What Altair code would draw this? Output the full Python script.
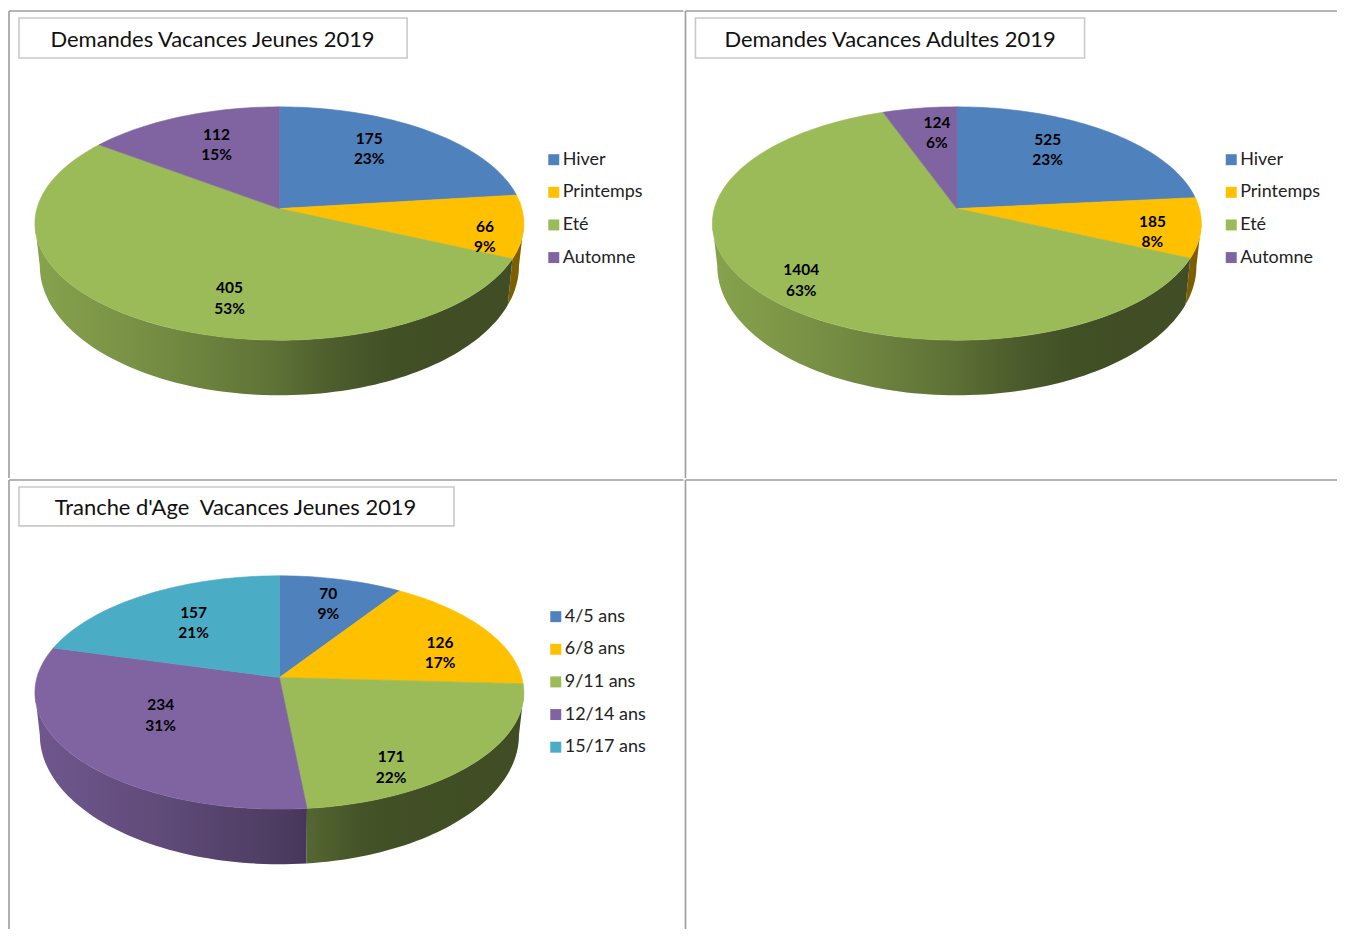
import math
import altair as alt
import pandas as pd

# ---- data ----
SEASONS = ["Hiver", "Printemps", "Eté", "Automne"]
AGES = ["4/5 ans", "6/8 ans", "9/11 ans", "12/14 ans", "15/17 ans"]
JEUNES_VALUES = [175, 66, 405, 112]
JEUNES_PCT = [23, 9, 53, 15]
ADULTES_VALUES = [525, 185, 1404, 124]
ADULTES_PCT = [23, 8, 63, 6]
AGE_VALUES = [70, 126, 171, 234, 157]
AGE_PCT = [9, 17, 22, 31, 21]
TITLE_JEUNES = "Demandes Vacances Jeunes 2019"
TITLE_ADULTES = "Demandes Vacances Adultes 2019"
TITLE_AGES = "Tranche d'Age\u00a0 Vacances Jeunes 2019"

# ---- styles / layout ----
COLORS = ["#4f81bd", "#ffc000", "#9bbb59", "#8064a2", "#4bacc6"]
FONT = "Lato"
LINE = "#9c9c9c"
BOX = "#c9c9c9"
R, B, K = 243.0, 115.0, 0.128        # perspective disc
DEPTH_Y, SCALE_Y, SCALE_X = 41.0, 1.108, 0.98  # lower rim of the disc
EDGE = math.degrees(math.acos(-K))
W1, W2, H1, H2 = 676, 653, 468, 450
LABEL_DY = -16
LABELS_1 = [(361, 137), (477, 225), (221, 287), (208, 133)]
LABELS_2 = [(363, 138), (468, 220), (116, 269), (252, 121)]
LABELS_3 = [(320, 123), (432, 172), (383, 287), (152, 235), (185, 142)]
PROJ = dict(type="identity", scale=1, translate=[0, 0])
TITLE_SIZE = 22
LEGEND_SIZE = 18
LABEL_SIZE = 15.5


def top(cx, cy, deg):
    t = math.radians(deg)
    d = 1 + K * math.cos(t)
    return (cx + R * math.sin(t) / d, cy - B * math.cos(t) / d)


def low(cx, cy, deg):
    x, y = top(cx, cy, deg)
    return (cx + SCALE_X * (x - cx), cy + DEPTH_Y + SCALE_Y * (y - cy))


def sweep(a, b, step=1.5):
    n = max(2, int(abs(b - a) / step) + 1)
    return [a + (b - a) * i / n for i in range(n + 1)]


def feature(ring, cat):
    ring = [list(p) for p in ring]
    ring.append(ring[0])
    return {"type": "Feature", "properties": {"cat": cat},
            "geometry": {"type": "Polygon", "coordinates": [ring]}}


def shade(x, cx):
    stops = [(-245, .87), (-120, .75), (0, .60), (90, .43), (245, .41)]
    dx = x - cx
    for (a, sa), (b, sb) in zip(stops, stops[1:]):
        if dx <= b:
            return sa + (sb - sa) * (max(dx, a) - a) / (b - a)
    return stops[-1][1]


def darken(hex_color, f):
    rgb = [int(hex_color[i:i + 2], 16) for i in (1, 3, 5)]
    return "#%02x%02x%02x" % tuple(min(255, round(c * f)) for c in rgb)


def rule(**kw):
    return alt.Chart().mark_rule(color=LINE, strokeWidth=1.6).encode(**kw)


def pie(cats, values, pcts, title, title_box, title_x, cx, cy, label_pos,
        legend_x, legend_y, row_pad, width, height):
    total = sum(values)
    colors = COLORS[:len(cats)]
    bounds = [0]
    for v in values:
        bounds.append(bounds[-1] + 360 * v / total)

    layers = [
        rule(x=alt.value(0), x2=alt.value(width), y=alt.value(0)),
        rule(x=alt.value(0), y=alt.value(0), y2=alt.value(height)),
    ]

    # title box
    layers.append(alt.Chart().mark_rect(fill="white", stroke=BOX, strokeWidth=1.6).encode(
        x=alt.value(title_box[0]), x2=alt.value(title_box[1]),
        y=alt.value(title_box[2]), y2=alt.value(title_box[3])))
    layers.append(alt.Chart(pd.DataFrame({"t": [title]})).mark_text(
        font=FONT, fontSize=TITLE_SIZE, color="#111111", align="center", baseline="middle"
    ).encode(text="t:N", x=alt.value(title_x), y=alt.value((title_box[2] + title_box[3]) / 2 + 2)))

    # side walls
    for i, cat in enumerate(cats):
        a = max(bounds[i], EDGE)
        b = min(bounds[i + 1], 360 - EDGE)
        if b <= a:
            continue
        angles = sweep(a, b)
        ring = [top(cx, cy, d) for d in angles] + [low(cx, cy, d) for d in reversed(angles)]
        xs = [p[0] for p in ring]
        x0, x1 = min(xs), max(xs)
        boost = 1.2 if colors[i] == "#ffc000" else 1.0
        stops = [alt.GradientStop(offset=j / 8,
                                  color=darken(colors[i], boost * shade(x0 + (x1 - x0) * j / 8, cx)))
                 for j in range(9)]
        grad = alt.Gradient(gradient="linear", x1=0, x2=1, y1=0, y2=0, stops=stops)
        layers.append(alt.Chart(alt.Data(values=[feature(ring, cat)]))
                      .mark_geoshape(fill=grad, strokeWidth=0).project(**PROJ))

    # top slices
    feats = []
    for i, cat in enumerate(cats):
        ring = [(cx, cy)] + [top(cx, cy, d) for d in sweep(bounds[i], bounds[i + 1])]
        feats.append(feature(ring, cat))
    scale = alt.Scale(domain=cats, range=colors)
    layers.append(alt.Chart(alt.Data(values=feats)).mark_geoshape(strokeWidth=0.6).encode(
        color=alt.Color("properties.cat:N", scale=scale, legend=alt.Legend(
            title=None, orient="none", legendX=legend_x, legendY=legend_y,
            symbolType="square", symbolSize=121, symbolStrokeWidth=0,
            labelFont=FONT, labelFontSize=LEGEND_SIZE, labelColor="#222222",
            labelOffset=0, rowPadding=row_pad, padding=0)),
        stroke=alt.Stroke("properties.cat:N", scale=scale, legend=None),
    ).project(**PROJ))

    # labels
    df = pd.DataFrame({
        "lon": [p[0] for p in label_pos],
        "lat": [p[1] + LABEL_DY for p in label_pos],
        "txt": [f"{v}\n{p}%" for v, p in zip(values, pcts)],
    })
    layers.append(alt.Chart(df).mark_text(
        font=FONT, fontSize=LABEL_SIZE, fontWeight="bold", color="black",
        lineBreak="\n", lineHeight=20.5, align="center", baseline="top"
    ).encode(longitude="lon:Q", latitude="lat:Q", text="txt:N").project(**PROJ))

    return alt.layer(*layers).properties(width=width, height=height)


c1 = pie(SEASONS, JEUNES_VALUES, JEUNES_PCT, TITLE_JEUNES, (10, 399, 7, 47), 204,
         271, 198, LABELS_1, 537, 140, 14.7, W1, H1)
c2 = pie(SEASONS, ADULTES_VALUES, ADULTES_PCT, TITLE_ADULTES, (10, 400, 7, 47), 205,
         272, 198, LABELS_2, 538, 140, 14.7, W2, H1)
c3 = pie(AGES, AGE_VALUES, AGE_PCT, TITLE_AGES, (10, 446, 7, 46), 227,
         271, 198, LABELS_3, 539, 128, 14.7, W1, H2)
c4 = alt.layer(
    rule(x=alt.value(0), x2=alt.value(W2), y=alt.value(0)),
    rule(x=alt.value(0), y=alt.value(0), y2=alt.value(H2)),
).properties(width=W2, height=H2)

chart = alt.vconcat(
    alt.hconcat(c1, c2, spacing=0).resolve_scale(color="independent", stroke="independent"),
    alt.hconcat(c3, c4, spacing=0).resolve_scale(color="independent", stroke="independent"),
    spacing=0,
).resolve_scale(color="independent", stroke="independent").properties(
    padding={"left": 0, "top": 1, "right": 0, "bottom": 0}
).configure_view(stroke=None).configure_concat(spacing=0)

chart.save("out.html", embed_options={"renderer": "svg", "actions": False})
